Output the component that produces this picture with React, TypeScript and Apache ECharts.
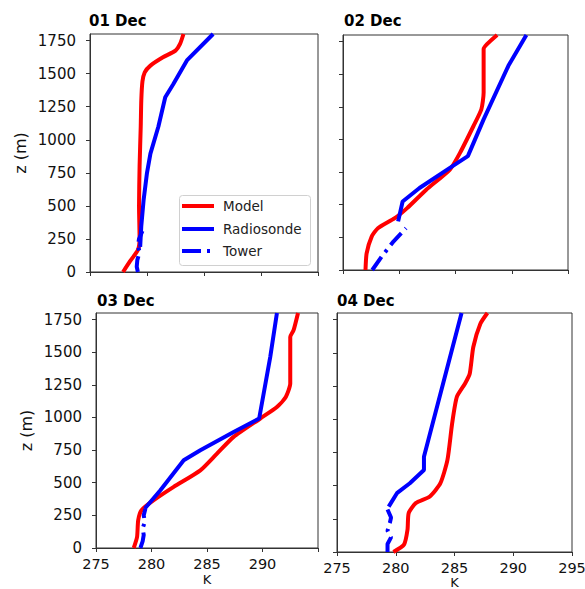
import React, { useEffect, useRef } from "react";
import * as echarts from "echarts";

// Temperature (K), height (m) pairs
const panelTitles = ["01 Dec", "02 Dec", "03 Dec", "04 Dec"];
const legendNames = ["Model", "Radiosonde", "Tower"];
const xTicks = [275, 280, 285, 290, 295];
const yTicks = [0, 250, 500, 750, 1000, 1250, 1500, 1750];

const model01 = [[277.9, 0], [278.5, 80], [279.2, 166], [279.35, 250], [279.3, 500], [279.35, 800], [279.45, 1100], [279.5, 1300], [279.6, 1440], [279.8, 1510], [280.3, 1561], [281.4, 1624], [282.5, 1674], [282.9, 1725], [283.2, 1800]];
const radio01 = [[279.4, 190], [279.5, 350], [279.7, 543], [280.0, 750], [280.3, 895], [281.0, 1100], [281.6, 1322], [282.3, 1420], [283.5, 1600], [285.8, 1800]];
const tower01 = [[279.2, 0], [279.1, 40], [279.15, 90], [279.35, 150], [279.2, 200], [279.3, 250], [279.6, 310]];

const model02 = [[277.0, 0], [277.1, 128], [277.55, 256], [278.1, 320], [279.6, 397], [280.7, 474], [282.4, 615], [284.5, 769], [285.4, 897], [286.6, 1103], [287.3, 1231], [287.5, 1359], [287.5, 1692], [287.8, 1730], [288.7, 1800]];
const radio02 = [[279.9, 372], [280.3, 525], [281.8, 628], [284.5, 782], [286.1, 872], [287.5, 1154], [289.7, 1564], [291.3, 1800]];
const tower02 = [[277.6, 0], [278.5, 110], [279.5, 220], [280.6, 320]];

const model03 = [[278.4, 0], [278.7, 84], [278.8, 212], [279.1, 289], [280.2, 366], [282.0, 468], [284.4, 595], [285.9, 723], [287.4, 851], [289.8, 992], [291.3, 1080], [292.1, 1157], [292.5, 1260], [292.5, 1617], [292.8, 1668], [293.2, 1800]];
const radio03 = [[279.4, 302], [280.8, 442], [282.9, 672], [284.4, 749], [287.4, 889], [289.7, 992], [290.7, 1464], [291.3, 1800]];
const tower03 = [[279.0, 0], [279.2, 50], [279.3, 100], [279.2, 150], [279.4, 200], [279.3, 250], [279.45, 300]];

const model04 = [[279.8, 0], [280.7, 55], [281.0, 167], [281.1, 293], [281.7, 368], [282.9, 418], [283.8, 518], [284.4, 693], [284.8, 969], [285.2, 1168], [285.9, 1269], [286.3, 1344], [286.6, 1544], [287.2, 1719], [287.8, 1800]];
const radio04 = [[279.4, 342], [280.1, 443], [281.2, 518], [282.4, 618], [282.4, 718], [285.6, 1800]];
const tower04 = [[279.3, 0], [279.3, 60], [279.6, 110], [279.3, 160], [279.5, 220], [279.6, 260], [279.3, 320]];

const modelData = [model01, model02, model03, model04];
const radioData = [radio01, radio02, radio03, radio04];
const towerData = [tower01, tower02, tower03, tower04];

const FONT = "DejaVu Sans";
const RED = "#ff0000";
const BLUE = "#0000ff";
const LW = 4;
const TOWER_DASH = [16, 6, 3, 6];

const grids = [
  { left: 90, top: 34, width: 228, height: 238 },
  { left: 343, top: 35, width: 225, height: 235 },
  { left: 96, top: 313, width: 222, height: 235 },
  { left: 337, top: 313, width: 235, height: 239 },
];

export default function App() {
  const ref = useRef<HTMLDivElement>(null);
  useEffect(() => {
    if (!ref.current) return;
    const chart = echarts.init(ref.current, null, { renderer: "svg" });
    const xAxes = grids.map((_, i) => ({
      type: "value",
      gridIndex: i,
      min: 275,
      max: 295,
      interval: 5,
      splitLine: { show: false },
      axisLine: { lineStyle: { color: "#333", width: 1 } },
      axisTick: { length: 4, customValues: xTicks, lineStyle: { color: "#333" } },
      axisLabel: {
        show: i >= 2,
        customValues: i === 2 ? [275, 280, 285, 290] : xTicks,
        formatter: (v: number) => String(v),
        fontFamily: FONT,
        fontSize: 14.5,
        color: "#111",
        margin: 8,
      },
      name: i >= 2 ? "K" : "",
      nameLocation: "middle",
      nameGap: i === 2 ? 25 : 24,
      nameTextStyle: { fontFamily: FONT, fontSize: 13, color: "#111", verticalAlign: "top" },
    }));
    const yAxes = grids.map((_, i) => ({
      type: "value",
      gridIndex: i,
      min: 0,
      max: 1800,
      splitLine: { show: false },
      axisLine: { lineStyle: { color: "#333", width: 1 } },
      axisTick: { length: 4, customValues: yTicks, lineStyle: { color: "#333" } },
      axisLabel: {
        show: i % 2 === 0,
        customValues: yTicks,
        formatter: (v: number) => String(v),
        fontFamily: FONT,
        fontSize: 15,
        color: "#111",
        margin: 14,
      },
      name: i % 2 === 0 ? "z (m)" : "",
      nameLocation: "middle",
      nameRotate: 90,
      nameGap: 62,
      nameTextStyle: { fontFamily: FONT, fontSize: 16, color: "#111" },
    }));
    const series: any[] = [];
    for (let i = 0; i < 4; i++) {
      series.push({
        name: legendNames[0], type: "line", xAxisIndex: i, yAxisIndex: i,
        data: modelData[i], showSymbol: false, symbol: "none", smooth: 0.2,
        lineStyle: { color: RED, width: LW }, itemStyle: { color: RED }, z: 2,
      });
      series.push({
        name: legendNames[1], type: "line", xAxisIndex: i, yAxisIndex: i,
        data: radioData[i], showSymbol: false, symbol: "none",
        lineStyle: { color: BLUE, width: LW }, itemStyle: { color: BLUE }, z: 3,
      });
      series.push({
        name: legendNames[2], type: "line", xAxisIndex: i, yAxisIndex: i,
        data: towerData[i], showSymbol: false, symbol: "none",
        lineStyle: { color: BLUE, width: LW, type: TOWER_DASH }, itemStyle: { color: BLUE }, z: 3,
      });
    }
    const titlePos = [
      { left: 89, top: 13 },
      { left: 344, top: 13 },
      { left: 97, top: 293 },
      { left: 337, top: 293 },
    ];
    // legend box drawn with graphic elements (inside the 01 Dec panel)
    const lgX = 179, lgY = 195, rowY = [206, 229, 251];
    const legendColors = [RED, BLUE, BLUE];
    const legendGraphic: any[] = [
      {
        type: "rect", left: lgX, top: lgY, z: 100,
        shape: { x: 0, y: 0, width: 131, height: 70, r: 3 },
        style: { fill: "#fff", stroke: "#d0d0d0", lineWidth: 1 },
      },
    ];
    legendNames.forEach((n, k) => {
      legendGraphic.push({
        type: "line", z: 101,
        shape: { x1: lgX + 3, y1: rowY[k], x2: lgX + 35, y2: rowY[k] },
        style: { stroke: legendColors[k], lineWidth: LW, lineDash: k === 2 ? [19, 6, 3, 6] : null },
      });
      legendGraphic.push({
        type: "text", z: 101, x: lgX + 44, y: rowY[k],
        style: { text: n, fill: "#222", font: `13.5px '${FONT}'`, textVerticalAlign: "middle", verticalAlign: "middle" },
      });
    });
    chart.setOption({
      animation: false,
      backgroundColor: "#fff",
      title: panelTitles.map((t, i) => ({
        text: t, left: titlePos[i].left, top: titlePos[i].top, padding: 0,
        textStyle: { fontFamily: FONT, fontSize: 15, fontWeight: "bold", color: "#000" },
      })),
      graphic: legendGraphic,
      grid: grids.map((g) => ({
        ...g, show: true, borderColor: "#333", borderWidth: 1, backgroundColor: "transparent",
        containLabel: false, outerBoundsMode: "none",
      })),
      xAxis: xAxes,
      yAxis: yAxes,
      series,
    });
    return () => chart.dispose();
  }, []);
  return <div ref={ref} style={{ position: "fixed", left: 0, top: 0, width: 585, height: 589, background: "#fff" }} />;
}
